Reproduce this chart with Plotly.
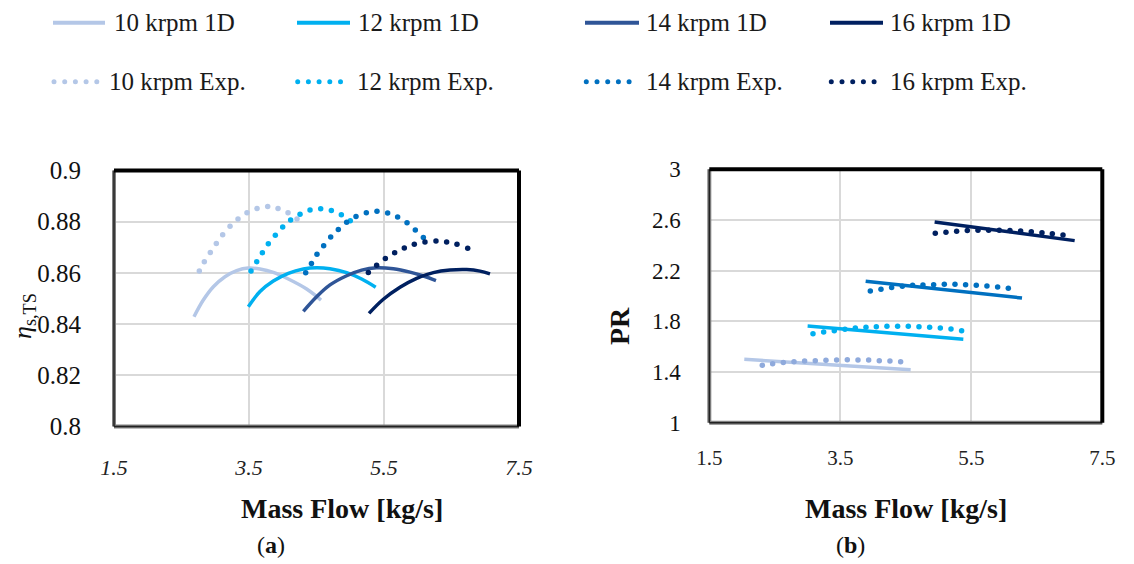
import plotly.graph_objects as go

W, H = 1134, 564
OFF = 8  # page body margin offset of the figure

# ---------------- data: (a) efficiency ----------------
a10_1d_x = [2.685, 2.823, 2.972, 3.144, 3.317, 3.490, 3.663, 3.860, 4.083, 4.354, 4.567]
a10_1d_y = [0.8429, 0.8494, 0.8546, 0.8585, 0.8609, 0.8619, 0.8615, 0.8602, 0.8576, 0.8537, 0.8494]
a12_1d_x = [3.490, 3.663, 3.860, 4.083, 4.305, 4.502, 4.700, 4.947, 5.169, 5.377]
a12_1d_y = [0.8468, 0.8527, 0.8568, 0.8598, 0.8615, 0.8620, 0.8616, 0.8601, 0.8576, 0.8544]
a14_1d_x = [4.305, 4.502, 4.700, 4.947, 5.169, 5.391, 5.638, 5.885, 6.083, 6.270]
a14_1d_y = [0.8450, 0.8507, 0.8553, 0.8589, 0.8611, 0.8620, 0.8616, 0.8603, 0.8588, 0.8570]
a16_1d_x = [5.278, 5.490, 5.737, 5.984, 6.231, 6.478, 6.725, 6.922, 7.070]
a16_1d_y = [0.8442, 0.8497, 0.8544, 0.8579, 0.8601, 0.8611, 0.8613, 0.8607, 0.8596]

a10_exp_x = [2.764, 2.838, 2.927, 3.016, 3.110, 3.219, 3.337, 3.470, 3.619, 3.777, 3.930, 4.078, 4.211]
a10_exp_y = [0.8607, 0.8644, 0.8680, 0.8715, 0.8749, 0.8782, 0.8811, 0.8835, 0.8852, 0.8859, 0.8852, 0.8835, 0.8811]
a12_exp_x = [3.530, 3.614, 3.698, 3.786, 3.890, 3.999, 4.117, 4.256, 4.404, 4.562, 4.720, 4.868, 5.001]
a12_exp_y = [0.8607, 0.8644, 0.8679, 0.8714, 0.8747, 0.8779, 0.8807, 0.8829, 0.8846, 0.8851, 0.8844, 0.8827, 0.8804]
a14_exp_x = [4.340, 4.425, 4.507, 4.606, 4.710, 4.823, 4.947, 5.085, 5.238, 5.396, 5.554, 5.702, 5.841, 5.964, 6.083]
a14_exp_y = [0.8601, 0.8637, 0.8673, 0.8706, 0.8740, 0.8770, 0.8798, 0.8820, 0.8835, 0.8841, 0.8834, 0.8818, 0.8796, 0.8768, 0.8738]
a16_exp_x = [5.268, 5.391, 5.520, 5.658, 5.801, 5.949, 6.107, 6.270, 6.428, 6.581, 6.740]
a16_exp_y = [0.8602, 0.8630, 0.8656, 0.8679, 0.8697, 0.8712, 0.8721, 0.8725, 0.8721, 0.8712, 0.8696]

# ---------------- data: (b) pressure ratio ----------------
b10_1d_x = [2.034, 4.574]
b10_1d_y = [1.500, 1.418]
b12_1d_x = [3.001, 5.378]
b12_1d_y = [1.763, 1.658]
b14_1d_x = [3.887, 6.274]
b14_1d_y = [2.116, 1.984]
b16_1d_x = [4.940, 7.078]
b16_1d_y = [2.584, 2.437]

b10_exp_x = [2.309, 2.467, 2.630, 2.793, 2.955, 3.118, 3.281, 3.444, 3.607, 3.770, 3.933, 4.095, 4.258, 4.421]
b10_exp_y = [1.453, 1.466, 1.476, 1.482, 1.487, 1.489, 1.492, 1.495, 1.497, 1.495, 1.495, 1.489, 1.487, 1.482]
b12_exp_x = [3.083, 3.246, 3.408, 3.571, 3.729, 3.892, 4.050, 4.212, 4.375, 4.538, 4.701, 4.864, 5.027, 5.190, 5.352]
b12_exp_y = [1.703, 1.716, 1.726, 1.737, 1.747, 1.753, 1.758, 1.761, 1.761, 1.761, 1.758, 1.753, 1.747, 1.739, 1.726]
b14_exp_x = [3.958, 4.121, 4.284, 4.447, 4.604, 4.762, 4.925, 5.088, 5.251, 5.413, 5.576, 5.739, 5.902, 6.065]
b14_exp_y = [2.039, 2.053, 2.068, 2.076, 2.084, 2.087, 2.089, 2.092, 2.092, 2.089, 2.084, 2.079, 2.071, 2.061]
b16_exp_x = [4.950, 5.113, 5.276, 5.439, 5.602, 5.765, 5.927, 6.090, 6.253, 6.416, 6.579, 6.737, 6.900]
b16_exp_y = [2.495, 2.503, 2.511, 2.516, 2.518, 2.518, 2.518, 2.516, 2.513, 2.508, 2.500, 2.492, 2.482]

x_ticks = [1.5, 3.5, 5.5, 7.5]
legend_labels_1d = ["10 krpm 1D", "12 krpm 1D", "14 krpm 1D", "16 krpm 1D"]
legend_labels_exp = ["10 krpm Exp.", "12 krpm Exp.", "14 krpm Exp.", "16 krpm Exp."]

# ---------------- styles ----------------
C10 = "#b4c7e7"
C10b = "#8faadc"
C12 = "#00b0f0"
C14L = "#2f5597"
C14 = "#0070c0"
C16 = "#002060"
SERIF = "Liberation Serif, Times New Roman, serif"
LW = 3.5
MS = 5.5


def dx(px):
    return (px - OFF) / W


def dy(py):
    return 1 - (py - OFF) / H


fig = go.Figure()


def line(x, y, c, xa, ya, shape="spline"):
    fig.add_trace(go.Scatter(x=x, y=y, mode="lines", line=dict(color=c, width=LW, shape=shape),
                             xaxis=xa, yaxis=ya, showlegend=False, hoverinfo="skip"))


def dots(x, y, c, xa, ya):
    fig.add_trace(go.Scatter(x=x, y=y, mode="markers", marker=dict(color=c, size=MS, line=dict(width=0)),
                             xaxis=xa, yaxis=ya, showlegend=False, hoverinfo="skip"))


# (a)
line(a10_1d_x, a10_1d_y, C10, "x", "y")
line(a12_1d_x, a12_1d_y, C12, "x", "y")
line(a14_1d_x, a14_1d_y, C14L, "x", "y")
line(a16_1d_x, a16_1d_y, C16, "x", "y")
dots(a10_exp_x, a10_exp_y, C10, "x", "y")
dots(a12_exp_x, a12_exp_y, C12, "x", "y")
dots(a14_exp_x, a14_exp_y, C14, "x", "y")
dots(a16_exp_x, a16_exp_y, C16, "x", "y")

# (b)
line(b10_1d_x, b10_1d_y, C10, "x2", "y2", "linear")
line(b12_1d_x, b12_1d_y, C12, "x2", "y2", "linear")
line(b14_1d_x, b14_1d_y, C14, "x2", "y2", "linear")
line(b16_1d_x, b16_1d_y, C16, "x2", "y2", "linear")
dots(b10_exp_x, b10_exp_y, C10b, "x2", "y2")
dots(b12_exp_x, b12_exp_y, C12, "x2", "y2")
dots(b14_exp_x, b14_exp_y, C14, "x2", "y2")
dots(b16_exp_x, b16_exp_y, C16, "x2", "y2")

# ---------------- manual legend (pixel axis x3/y3, in screen pixels) ----------------
leg_cols_1d = [C10, C12, C14L, C16]
leg_cols_exp = [C10, C12, C14, C16]
leg_line_x = [(53, 105), (297, 350), (585, 639), (830, 883)]
leg_dot_x0 = [54, 297.7, 586.3, 831.3]
leg_text_x1 = [111.7, 356, 644.3, 887.7]
leg_text_x2 = [107.3, 355, 644.3, 887.7]
ROW1, ROW2 = 22.7, 81.7
annotations = []
for i in range(4):
    fig.add_trace(go.Scatter(x=list(leg_line_x[i]), y=[ROW1, ROW1], mode="lines",
                             line=dict(color=leg_cols_1d[i], width=4), xaxis="x3", yaxis="y3",
                             showlegend=False, hoverinfo="skip"))
    fig.add_trace(go.Scatter(x=[leg_dot_x0[i] + k * 10.7 for k in range(5)], y=[ROW2] * 5, mode="markers",
                             marker=dict(color=leg_cols_exp[i], size=5), xaxis="x3", yaxis="y3",
                             showlegend=False, hoverinfo="skip"))
    annotations.append(dict(x=leg_text_x1[i], y=ROW1, xref="x3", yref="y3", text=legend_labels_1d[i],
                            showarrow=False, xanchor="left", yanchor="middle",
                            font=dict(family=SERIF, size=25, color="#1a1a1a")))
    annotations.append(dict(x=leg_text_x2[i], y=ROW2, xref="x3", yref="y3", text=legend_labels_exp[i],
                            showarrow=False, xanchor="left", yanchor="middle",
                            font=dict(family=SERIF, size=25, color="#1a1a1a")))

# titles
tfont = dict(family=SERIF, size=28, color="#111")
annotations += [
    dict(x=342, y=508, xref="x3", yref="y3", text="<b>Mass Flow [kg/s]</b>", showarrow=False, font=tfont),
    dict(x=905.5, y=508, xref="x3", yref="y3", text="<b>Mass Flow [kg/s]</b>", showarrow=False, font=tfont),
    dict(x=271, y=545, xref="x3", yref="y3", text="(<b>a</b>)", showarrow=False,
         font=dict(family=SERIF, size=24, color="#111")),
    dict(x=850, y=545, xref="x3", yref="y3", text="(<b>b</b>)", showarrow=False,
         font=dict(family=SERIF, size=24, color="#111")),
    dict(x=619, y=326, xref="x3", yref="y3", text="<b>PR</b>", showarrow=False, textangle=-90, font=tfont),
    dict(x=24, y=316, xref="x3", yref="y3", text="<i>η</i><sub>s,TS</sub>", showarrow=False, textangle=-90,
         font=dict(family=SERIF, size=26, color="#111")),
]

# frames
shapes = []
for xr, yr in [("x domain", "y domain"), ("x2 domain", "y2 domain")]:
    shapes += [
        dict(type="line", xref=xr, yref=yr, x0=0, x1=0, y0=0, y1=1, line=dict(color="#808080", width=4)),
        dict(type="line", xref=xr, yref=yr, x0=0, x1=1, y0=0, y1=0, line=dict(color="#808080", width=4)),
        dict(type="line", xref=xr, yref=yr, x0=0, x1=0, y0=0, y1=1, line=dict(color="#222", width=1.5)),
        dict(type="line", xref=xr, yref=yr, x0=0, x1=1, y0=0, y1=0, line=dict(color="#222", width=1.5)),
        dict(type="line", xref=xr, yref=yr, x0=0, x1=1, y0=1, y1=1, line=dict(color="#000", width=4)),
        dict(type="line", xref=xr, yref=yr, x0=1, x1=1, y0=0, y1=1, line=dict(color="#000", width=4)),
    ]

grid = dict(showgrid=True, gridcolor="#d9d9d9", gridwidth=2, zeroline=False, showline=False,
            ticks="outside", tickcolor="rgba(0,0,0,0)", automargin=False)

fig.update_layout(
    width=W, height=H, margin=dict(l=0, r=0, t=0, b=0, autoexpand=False),
    paper_bgcolor="white", plot_bgcolor="rgba(0,0,0,0)", showlegend=False,
    xaxis=dict(domain=[dx(114), dx(519)], range=[1.5, 7.5], tickvals=x_ticks,
               ticktext=["<i>%s</i>" % v for v in x_ticks], ticklen=21,
               tickfont=dict(family=SERIF, size=22, color="#222"), anchor="y", **grid),
    yaxis=dict(domain=[dy(426.5), dy(170.5)], range=[0.8, 0.9], dtick=0.02, tick0=0.8, ticklen=27,
               tickfont=dict(family=SERIF, size=25, color="#111"), anchor="x", **grid),
    xaxis2=dict(domain=[dx(709.3), dx(1102.3)], range=[1.5, 7.5], tickvals=x_ticks,
                ticktext=[str(v) for v in x_ticks], ticklen=16,
                tickfont=dict(family=SERIF, size=21, color="#222"), anchor="y2", **grid),
    yaxis2=dict(domain=[dy(422.7), dy(169.3)], range=[1, 3], dtick=0.4, tick0=1, ticklen=23,
                tickfont=dict(family=SERIF, size=23, color="#111"), anchor="x2", **grid),
    xaxis3=dict(domain=[0, 1], range=[OFF, W + OFF], visible=False, anchor="y3", fixedrange=True),
    yaxis3=dict(domain=[0, 1], range=[H + OFF, OFF], visible=False, anchor="x3", fixedrange=True),
    annotations=annotations, shapes=shapes,
)

fig.write_html("out.html")
